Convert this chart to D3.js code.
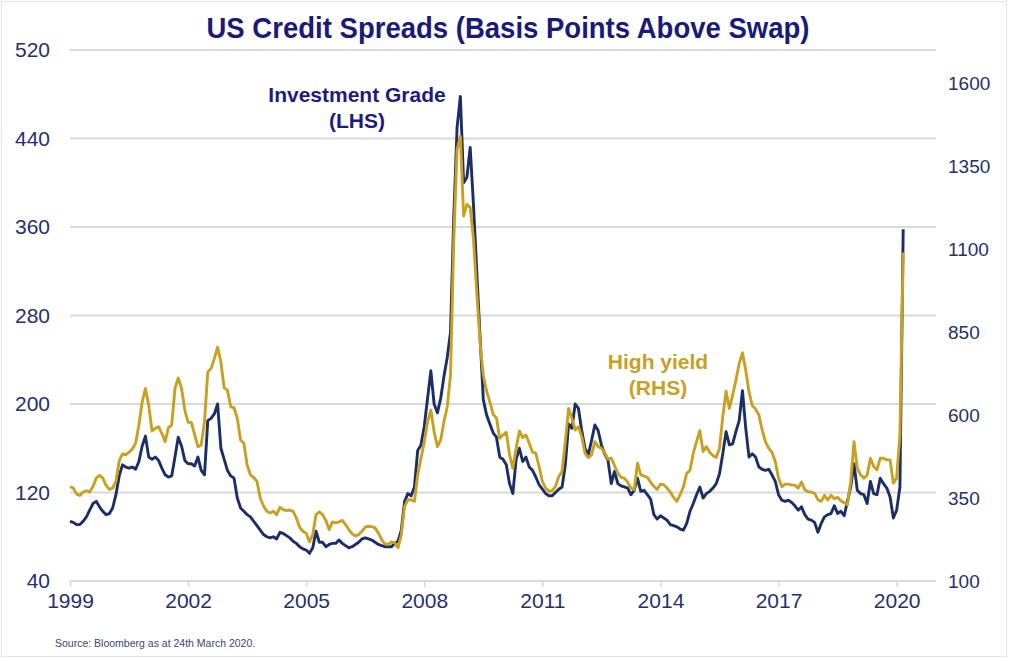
<!DOCTYPE html>
<html>
<head>
<meta charset="utf-8">
<script src="https://cdn.jsdelivr.net/npm/d3@7"></script>
<style>
  body { margin: 0; background: #fff; }
  svg { display: block; }
</style>
</head>
<body>
<div id="chart"></div>
<script>

// monthly spreads, Jan 1999 .. Mar 2020 (basis points above swap)
const startYear = 1999;

const igSpread = [
	94, 93, 91, 91, 94, 98, 104, 110, 112, 107, 103, 100,
	101, 106, 118, 135, 145, 143, 142, 143, 141, 148, 162, 171,
	152, 150, 152, 149, 142, 136, 134, 135, 152, 170, 162, 149,
	146, 146, 144, 152, 140, 136, 185, 187, 191, 200, 160, 150,
	140, 135, 133, 115, 106, 103, 100, 98, 94, 90, 86, 82,
	80, 79, 80, 78, 84, 83, 81, 79, 76, 74, 71, 69,
	68, 65, 70, 85, 75, 75, 71, 73, 74, 74, 77, 74,
	72, 70, 71, 73, 75, 78, 79, 78, 77, 75, 73, 72,
	71, 71, 71, 74, 76, 86, 112, 119, 117, 125, 158, 163,
	180, 205, 230, 200, 192, 205, 225, 242, 265, 370, 450, 478,
	400, 405, 432, 380, 320, 261, 204, 190, 182, 174, 170, 152,
	150, 145, 128, 119, 150, 160, 148, 152, 143, 140, 134, 127,
	123, 119, 117, 117, 120, 123, 125, 145, 182, 178, 200, 196,
	176, 160, 154, 167, 181, 176, 163, 155, 149, 128, 139, 128,
	126, 125, 124, 118, 122, 133, 121, 122, 118, 114, 100, 96,
	99, 97, 95, 91, 90, 89, 87, 86, 92, 103, 110, 118,
	125, 115, 119, 121, 124, 128, 137, 155, 175, 163, 164, 175,
	185, 212, 178, 152, 155, 152, 143, 141, 140, 141, 136, 130,
	118, 113, 112, 113, 111, 108, 104, 107, 100, 96, 95, 93,
	84, 92, 98, 100, 101, 108, 101, 103, 99, 112, 125, 146,
	122, 119, 118, 110, 130, 119, 118, 133, 128, 124, 116, 97,
	104, 125, 358
];

const hySpread = [
	384, 380, 362, 358, 368, 372, 368, 385, 410, 418, 410, 388,
	376, 380, 400, 462, 483, 480, 488, 498, 515, 570, 640, 680,
	630, 552, 560, 565, 545, 520, 562, 570, 680, 712, 680, 615,
	578, 578, 540, 505, 510, 580, 730, 740, 770, 805, 760, 682,
	675, 625, 622, 590, 525, 515, 450, 420, 412, 400, 350, 326,
	310, 305, 310, 300, 322, 315, 312, 314, 310, 290, 262, 250,
	244, 218, 240, 300, 308, 300, 282, 255, 278, 275, 278, 283,
	270, 255, 242, 236, 240, 250, 262, 265, 264, 260, 245, 225,
	212, 210, 218, 215, 200, 240, 325, 345, 345, 340, 420, 470,
	520, 580, 615, 550, 505, 525, 580, 625, 720, 1130, 1400, 1440,
	1200, 1235, 1225, 1130, 970, 820, 720, 672, 640, 602, 592, 530,
	540, 548, 480, 440, 500, 552, 532, 540, 515, 488, 485, 445,
	400, 380, 370, 372, 385, 415, 430, 520, 620, 590, 555, 565,
	535, 485, 472, 480, 520, 505, 500, 487, 467, 470, 448, 425,
	412, 410, 398, 380, 375, 455, 420, 416, 412, 398, 385, 376,
	392, 390, 380, 368, 352, 340, 360, 384, 424, 434, 485, 520,
	553, 490, 505, 488, 478, 472, 500, 595, 672, 620, 660, 705,
	755, 788, 735, 670, 628, 618, 600, 555, 520, 500, 488, 460,
	410, 384, 392, 392, 389, 389, 380, 398, 375, 369, 368, 364,
	345, 340, 358, 344, 358, 348, 352, 342, 336, 330, 400, 520,
	440, 420, 410, 418, 470, 445, 435, 470, 470, 465, 465, 395,
	410, 540, 1090
];

const yearTicks = [1999, 2002, 2005, 2008, 2011, 2014, 2017, 2020];
const leftTicks = [40, 120, 200, 280, 360, 440, 520];
const rightTicks = [100, 350, 600, 850, 1100, 1350, 1600];

const navy = "#1b2e66";
const gold = "#c9a020";
const labelColor = "#262f6e";
const gridColor = "#d9d9d9";
const font = "'Liberation Sans', Arial, sans-serif";

let width = 1011, height = 658;
let plot = {left: 70, right: 936, top: 50, bottom: 581};

let svg = d3.select("#chart").append("svg")
	.attr("width", width)
	.attr("height", height);

// outer frame
svg.append("rect")
	.attr("x", 1.5).attr("y", 1.5)
	.attr("width", width - 6).attr("height", height - 3)
	.attr("fill", "none")
	.attr("stroke", "#e3e3e3");

// scales
let x = d3.scaleLinear().domain([1999, 2021]).range([plot.left, plot.right]);
let yLeft = d3.scaleLinear().domain([40, 520]).range([plot.bottom, plot.top]);
let yRight = d3.scaleLinear().domain([100, 1700]).range([plot.bottom, plot.top]);

// gridlines
svg.append("g")
	.selectAll("line")
	.data(leftTicks)
	.enter().append("line")
	.attr("x1", plot.left).attr("x2", plot.right)
	.attr("y1", d => yLeft(d)).attr("y2", d => yLeft(d))
	.attr("stroke", gridColor)
	.attr("stroke-width", 2);

// x axis
let xAxis = d3.axisBottom(x)
	.tickValues(yearTicks)
	.tickFormat(d3.format("d"))
	.tickSize(6)
	.tickPadding(6);

let xG = svg.append("g")
	.attr("transform", `translate(0, ${plot.bottom})`)
	.call(xAxis);
xG.select(".domain").remove();
xG.selectAll(".tick line").attr("stroke", gridColor).attr("stroke-width", 1.5);
xG.selectAll("text")
	.attr("fill", labelColor)
	.style("font-family", font)
	.style("font-size", "21px");

// left axis
let yLG = svg.append("g")
	.attr("transform", `translate(${plot.left - 20}, 0)`)
	.call(d3.axisLeft(yLeft).tickValues(leftTicks).tickSize(0).tickPadding(0));
yLG.select(".domain").remove();
yLG.selectAll("text")
	.attr("fill", labelColor)
	.style("font-family", font)
	.style("font-size", "21px");

// right axis
let yRG = svg.append("g")
	.attr("transform", `translate(${plot.right + 12}, 0)`)
	.call(d3.axisRight(yRight).tickValues(rightTicks).tickFormat(d3.format("d")).tickSize(0).tickPadding(0));
yRG.select(".domain").remove();
yRG.selectAll("text")
	.attr("fill", labelColor)
	.style("font-family", font)
	.style("font-size", "19px");

// lines
let monthX = (d, i) => x(startYear + i / 12);

let igLine = d3.line().x(monthX).y(d => yLeft(d));
let hyLine = d3.line().x(monthX).y(d => yRight(d));

svg.append("path")
	.datum(igSpread)
	.attr("d", igLine)
	.attr("fill", "none")
	.attr("stroke", navy)
	.attr("stroke-width", 2.9)
	.attr("stroke-linejoin", "round");

svg.append("path")
	.datum(hySpread)
	.attr("d", hyLine)
	.attr("fill", "none")
	.attr("stroke", gold)
	.attr("stroke-width", 2.9)
	.attr("stroke-linejoin", "round");

// title (condensed look)
svg.append("text")
	.attr("x", 508)
	.attr("y", 38)
	.attr("text-anchor", "middle")
	.attr("fill", "#1a1a7a")
	.attr("textLength", 603)
	.attr("lengthAdjust", "spacingAndGlyphs")
	.style("font-family", font)
	.style("font-weight", "bold")
	.style("font-size", "30px")
	.text("US Credit Spreads (Basis Points Above Swap)");

// series annotations
let igNote = svg.append("text")
	.attr("text-anchor", "middle")
	.attr("fill", "#1c1c80")
	.style("font-family", font)
	.style("font-weight", "bold")
	.style("font-size", "21px");
igNote.append("tspan").attr("x", 357).attr("y", 102).text("Investment Grade");
igNote.append("tspan").attr("x", 357).attr("y", 128).text("(LHS)");

let hyNote = svg.append("text")
	.attr("text-anchor", "middle")
	.attr("fill", gold)
	.style("font-family", font)
	.style("font-weight", "bold")
	.style("font-size", "21px");
hyNote.append("tspan").attr("x", 658).attr("y", 369).text("High yield");
hyNote.append("tspan").attr("x", 658).attr("y", 395).text("(RHS)");

// source
svg.append("text")
	.attr("x", 55)
	.attr("y", 647)
	.attr("fill", "#3a4578")
	.style("font-family", font)
	.style("font-size", "10.5px")
	.text("Source: Bloomberg as at 24th March 2020.");

</script>
</body>
</html>
